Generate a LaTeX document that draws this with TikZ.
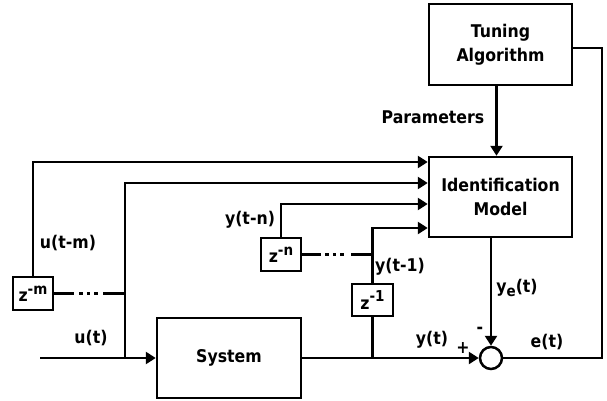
\documentclass[tikz,border=0pt]{standalone}
\usepackage{fontspec}
\setmainfont{DejaVu Sans Condensed}
\usetikzlibrary{arrows.meta}
\newcommand{\zpow}[1]{z\raisebox{0.42em}{\fontsize{15}{15}\selectfont -#1}}
\newcommand{\ysub}[1]{y\raisebox{-0.25em}{\fontsize{15}{15}\selectfont #1}}

\begin{document}
\begin{tikzpicture}[x=1pt,y=-1pt,line width=2.5pt,
    font=\fontsize{17.5}{24}\selectfont\bfseries,
    block/.style={draw,rectangle,inner sep=0pt,align=center},
    delay/.style={draw,rectangle,inner sep=0pt,minimum width=40pt,minimum height=33pt},
    arr/.style={-{Triangle[length=10pt,width=12pt]}},
    dots/.style={line width=2.5pt,dash pattern=on 3.5pt off 4pt}]
      % page in pixels: 607 x 401, y counted downwards
      \useasboundingbox (0,0) rectangle (607,401);
      % blocks
      \node[block,minimum width=143pt,minimum height=81pt] (tuning) at (500.5,44.5) {Tuning\\Algorithm};
      \node[block,minimum width=143pt,minimum height=80pt] (ident) at (500.5,197) {Identification\\Model};
      \node[block,minimum width=144pt,minimum height=80pt] (system) at (229,358) {System};
      \node[draw,circle,inner sep=0pt,minimum size=22pt] (sum) at (491,358) {};
      % delay elements
      \node[delay] (zm) at (33,293.5) {\zpow{m}};
      \node[delay] (zn) at (281,254.5) {\zpow{n}};
      \node[delay,minimum width=41pt,minimum height=32pt] (z1) at (372.5,300) {\zpow{1}};
      % free ends and junctions
      \coordinate (uin) at (40,358);
      \coordinate (ju) at (125,358);
      \coordinate (ecorner) at (602,358);
      % input side
      \draw[arr] (uin) -- (system.west);
      \draw[arr] (zm.north) |- ([yshift=35pt]ident.west);
      \draw[arr] (ju) |- ([yshift=14pt]ident.west);
      % u(t) ... u(t-m) chain (dotted middle)
      \draw (zm.east) -- ([xshift=20pt]zm.east);
      \draw[dots] ([xshift=25pt]zm.east) -- ([xshift=46pt]zm.east);
      \draw (ju |- zm.east) -- ++(-22,0);
      % output side
      \draw[arr] (system.east) -- (sum.west);
      \draw (z1.south |- system.east) -- (z1.south);
      \draw[arr] (z1.north) |- ([yshift=-31pt]ident.west);
      \draw[arr] (zn.north) |- ([yshift=-7pt]ident.west);
      % y(t-1) ... y(t-n) chain (dotted middle)
      \draw (zn.east) -- ([xshift=19pt]zn.east);
      \draw[dots] ([xshift=23pt]zn.east) -- ([xshift=44pt]zn.east);
      \draw (z1 |- zn.east) -- ++(-22,0);
      % model and tuning
      \draw[arr] ([xshift=-4pt]tuning.south) -- ([xshift=-4pt]ident.north);
      \draw[arr] (sum.north |- ident.south) -- (sum.north);
      \draw (sum.east) -- (ecorner) |- ([yshift=-3.5pt]tuning.east);
      % labels
      \node (lpar) at (433,117) {Parameters};
      \node (lutm) at (68,243) {u(t-m)};
      \node (lut) at (91,338) {u(t)};
      \node (lytn) at (250,220) {y(t-n)};
      \node (lyt1) at (400,267) {y(t-1)};
      \node (lye) at (517,288) {\ysub{e}(t)};
      \node (lyt) at (432,340) {y(t)};
      \node (lplus) at (463,348) {+};
      \node (lminus) at (480,330) {-};
      \node (let) at (547,342) {e(t)};
    \end{tikzpicture}
\end{document}
